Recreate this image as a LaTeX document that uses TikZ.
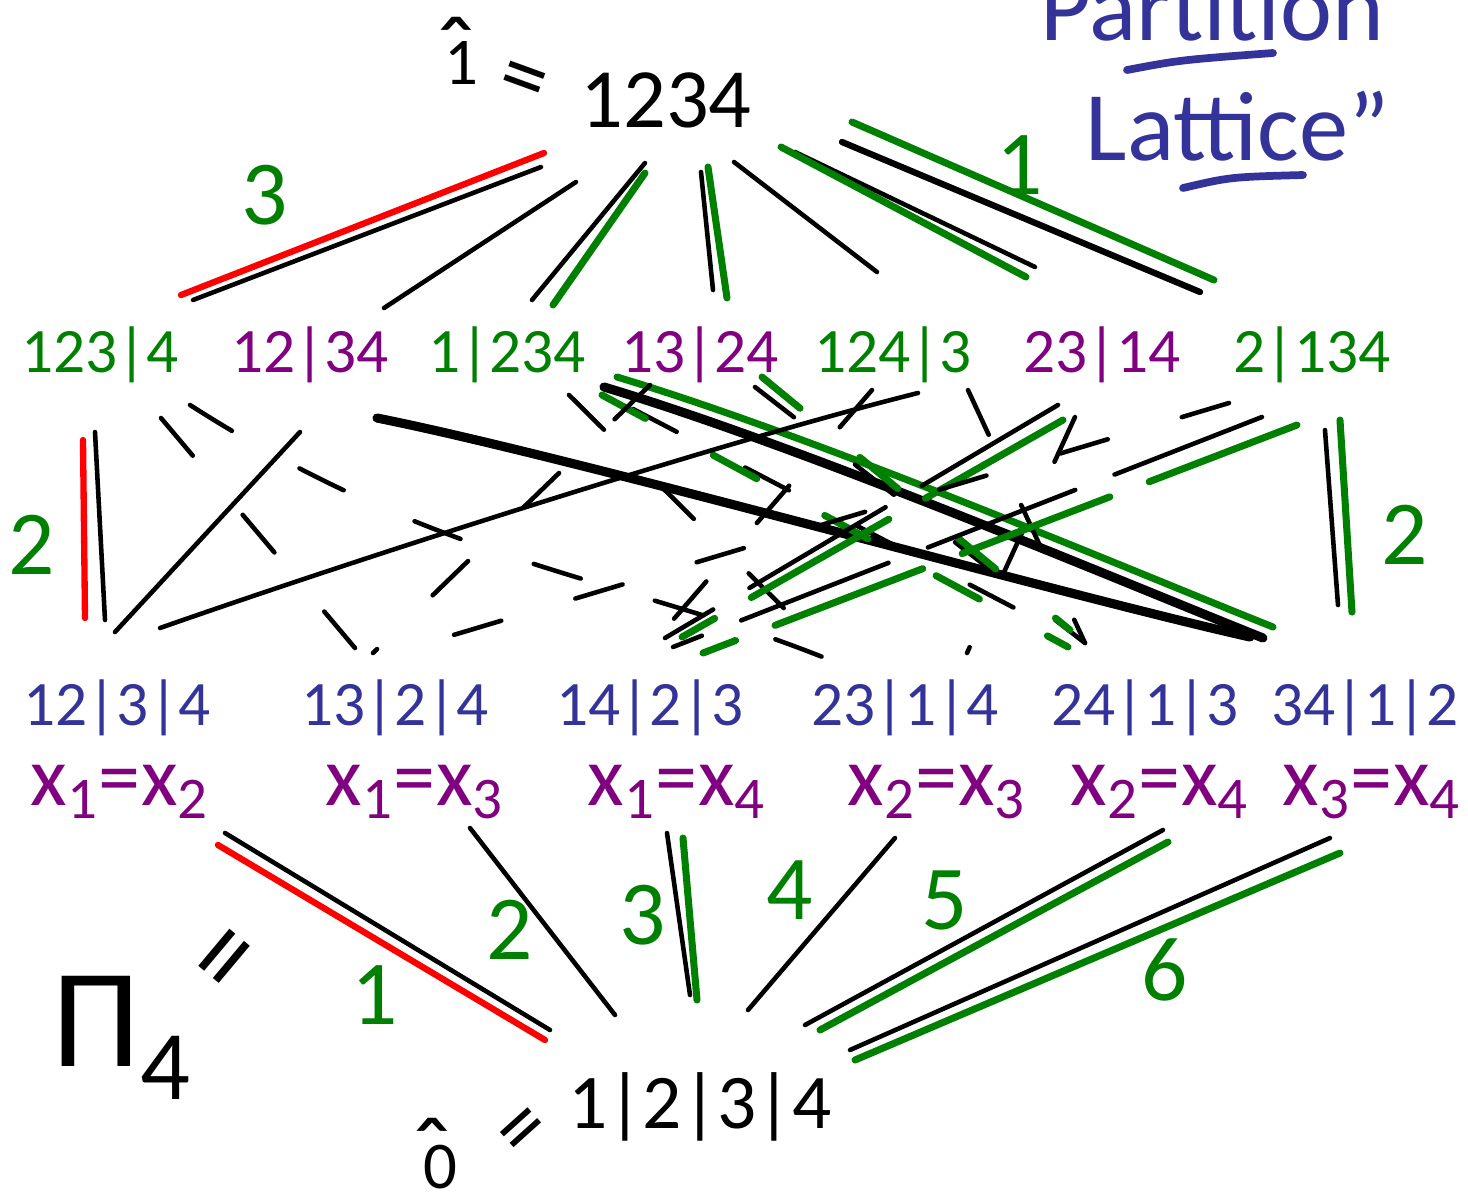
\documentclass[tikz,border=0pt]{standalone}
\usepackage{fontspec}
\setmainfont{Carlito}
\definecolor{lgreen}{HTML}{008000}
\definecolor{lpurple}{HTML}{800080}
\definecolor{lblue}{HTML}{333399}
\newcommand{\fs}[1]{\fontsize{#1}{#1}\selectfont}

\begin{document}
\begin{tikzpicture}[x=0.01cm,y=-0.01cm,inner sep=0pt,
  blk/.style={line width=1.3pt,line cap=round},
  thk/.style={line width=2.6pt,line cap=round},
  grn/.style={lgreen,line width=2pt,line cap=round},
  rd/.style={red,line width=1.8pt,line cap=round},
  hid/.style={dash pattern=on 14pt off 22pt},
  brk/.style={dash pattern=on 45pt off 12pt},
  hatmark/.style={font=\fs{30},anchor=base}]
  \useasboundingbox (0,0) rectangle (1468,1196);

  % ----- top, bottom, names -----
  \node[font=\fs{24}] (top) at (666,100) {1234};
  \node[font=\fs{19},anchor=base] (one) at (461,84) {1};
  \node[hatmark] (hat1) at (456,88) {ˆ};
  \node[font=\fs{26},rotate=-20] (eq1) at (522,86) {=};
  \node[font=\fs{22}] (bot) at (700,1107) {1|2|3|4};
  \node[font=\fs{19},anchor=base] (zero) at (440,1188) {0};
  \node[hatmark] (hat0) at (432,1189) {ˆ};
  \node[font=\fs{26},rotate=42] (eq0) at (527,1135) {=};
  \node[font=\fs{40},anchor=base west] (pi4) at (52,1066) {Π\textsubscript{4}};
  \node[font=\fs{34},rotate=50] (eqpi) at (234,964) {=};

  % ----- title -----
  \node[text=lblue,font=\fs{28},anchor=base west] (title1) at (1040,40) {Partition};
  \node[text=lblue,font=\fs{28},anchor=base west] (title2) at (1085,160) {Lattice''};
  \draw[lblue,line width=2.2pt,line cap=round] (1127,70) .. controls (1180,60) .. (1273,53);
  \draw[lblue,line width=2.2pt,line cap=round] (1183,188) .. controls (1230,177) .. (1303,175);

  % ----- coatoms -----
  \foreach \n/\x/\t/\c in {s123x4/100/123|4/lgreen, s12x34/310/12|34/lpurple,
      s1x234/507/1|234/lgreen, s13x24/700/13|24/lpurple, s124x3/893/124|3/lgreen,
      s23x14/1102/23|14/lpurple, s2x134/1312/2|134/lgreen}
    \node[text=\c,font=\fs{18}] (\n) at (\x,355) {\t};

  % ----- atoms -----
  \foreach \n/\x/\t in {a12/117/12|3|4, a13/395/13|2|4, a14/650/14|2|3,
      a23/905/23|1|4, a24/1145/24|1|3, a34/1365/34|1|2}
    \node[text=lblue,font=\fs{18}] (\n) at (\x,708) {\t};

  % ----- equations -----
  \foreach \n/\x/\i/\j in {e12/120/1/2, e13/415/1/3, e14/677/1/4,
      e23/937/2/3, e24/1160/2/4, e34/1372/3/4}
    \node[text=lpurple,font=\fs{24}] (\n) at (\x,792) {x\textsubscript{\i}=x\textsubscript{\j}};

  % ----- counts -----
  \foreach \x/\y/\t [count=\k] in {265/195/3, 1020/165/1, 32/545/2, 1405/535/2,
      375/995/1, 510/930/2, 643/915/3, 790/890/4, 945/900/5, 1165/970/6}
    \node[text=lgreen,font=\fs{26}] (w\k) at (\x,\y) {\t};

  % ----- top fan -----
  \draw[rd] ([shift={(-122,53)}]top.center) -- ([shift={(81,-60)}]s123x4.center);
  \draw[blk] ([shift={(-125,67)}]top.center) -- ([shift={(93,-55)}]s123x4.center);
  \draw[blk] ([shift={(-90,82)}]top.center) -- ([shift={(74,-47)}]s12x34.center);
  \draw[blk] ([shift={(-21,63)}]top.center) -- ([shift={(25,-55)}]s1x234.center);
  \draw[grn] ([shift={(-21,73)}]top.center) -- ([shift={(46,-50)}]s1x234.center);
  \draw[blk] ([shift={(35,72)}]top.center) -- ([shift={(13,-65)}]s13x24.center);
  \draw[grn] ([shift={(42,67)}]top.center) -- ([shift={(27,-57)}]s13x24.center);
  \draw[blk] ([shift={(68,62)}]top.center) -- ([shift={(-16,-83)}]s124x3.center);
  \draw[blk] ([shift={(129,52)}]top.center) -- ([shift={(-67,-88)}]s23x14.center);
  \draw[grn] ([shift={(115,47)}]top.center) -- ([shift={(-76,-78)}]s23x14.center);
  \draw[thk,line width=1.8pt] ([shift={(176,42)}]top.center) -- ([shift={(-112,-63)}]s2x134.center);
  \draw[grn] ([shift={(186,22)}]top.center) -- ([shift={(-98,-75)}]s2x134.center);

  % ----- coatoms to atoms -----
  \draw[rd] ([shift={(-17,85)}]s123x4.center) -- ([shift={(-32,-90)}]a12.center);
  \draw[blk] ([shift={(-5,77)}]s123x4.center) -- ([shift={(-12,-88)}]a12.center);
  \draw[blk,hid] ([shift={(61,63)}]s123x4.center) -- ([shift={(-40,-60)}]a13.center);
  \draw[blk,hid] ([shift={(90,50)}]s123x4.center) .. controls +(250,160) and +(-200,-80) .. ([shift={(-80,-50)}]a23.center);
  \draw[blk] ([shift={(-10,77)}]s12x34.center) -- ([shift={(-2,-76)}]a12.center);
  \draw[thk] ([shift={(67,63)}]s12x34.center) .. controls +(200,40) and +(-200,-45) .. ([shift={(-115,-71)}]a34.center);
  \draw[blk,hid] ([shift={(62,40)}]s1x234.center) -- ([shift={(-74,-53)}]a23.center);
  \draw[blk,hid] ([shift={(126,54)}]s1x234.center) -- ([shift={(-73,-70)}]a24.center);
  \draw[grn,hid] ([shift={(95,40)}]s1x234.center) -- ([shift={(-77,-61)}]a24.center);
  \draw[thk] ([shift={(97,32)}]s1x234.center) .. controls +(200,60) and +(-150,-60) .. ([shift={(-102,-70)}]a34.center);
  \draw[grn] ([shift={(110,22)}]s1x234.center) .. controls +(200,60) and +(-150,-60) .. ([shift={(-92,-81)}]a34.center);
  \draw[blk,hid] ([shift={(-50,30)}]s13x24.center) -- ([shift={(-22,-55)}]a13.center);
  \draw[blk,hid] ([shift={(55,32)}]s13x24.center) -- ([shift={(-60,-65)}]a24.center);
  \draw[grn,hid] ([shift={(62,22)}]s13x24.center) -- ([shift={(-75,-78)}]a24.center);
  \draw[blk] ([shift={(25,38)}]s124x3.center) .. controls +(-200,50) and +(200,-70) .. ([shift={(43,-80)}]a12.center);
  \draw[blk,hid] ([shift={(-21,35)}]s124x3.center) -- ([shift={(10,-73)}]a14.center);
  \draw[blk,hid] ([shift={(75,35)}]s124x3.center) -- ([shift={(-60,-65)}]a24.center);
  \draw[blk,brk] ([shift={(-44,50)}]s23x14.center) -- ([shift={(15,-70)}]a14.center);
  \draw[grn,brk] ([shift={(-39,65)}]s23x14.center) -- ([shift={(32,-71)}]a14.center);
  \draw[blk,hid] ([shift={(-27,62)}]s23x14.center) -- ([shift={(62,-55)}]a23.center);
  \draw[blk,hid] ([shift={(-83,48)}]s2x134.center) -- ([shift={(5,-57)}]a13.center);
  \draw[blk,brk] ([shift={(-50,62)}]s2x134.center) -- ([shift={(23,-61)}]a14.center);
  \draw[grn,brk] ([shift={(-15,70)}]s2x134.center) -- ([shift={(53,-55)}]a14.center);
  \draw[blk] ([shift={(13,75)}]s2x134.center) -- ([shift={(-27,-103)}]a34.center);
  \draw[grn] ([shift={(28,65)}]s2x134.center) -- ([shift={(-13,-96)}]a34.center);

  % ----- atoms to bottom -----
  \draw[blk] ([shift={(108,125)}]a12.center) -- ([shift={(-150,-77)}]bot.center);
  \draw[rd] ([shift={(101,137)}]a12.center) -- ([shift={(-155,-67)}]bot.center);
  \draw[blk] ([shift={(75,120)}]a13.center) -- ([shift={(-85,-92)}]bot.center);
  \draw[blk] ([shift={(17,125)}]a14.center) -- ([shift={(-10,-112)}]bot.center);
  \draw[grn] ([shift={(33,130)}]a14.center) -- ([shift={(-3,-107)}]bot.center);
  \draw[blk] ([shift={(-10,130)}]a23.center) -- ([shift={(48,-97)}]bot.center);
  \draw[blk] ([shift={(18,122)}]a24.center) -- ([shift={(105,-82)}]bot.center);
  \draw[grn] ([shift={(23,134)}]a24.center) -- ([shift={(120,-77)}]bot.center);
  \draw[blk] ([shift={(-35,130)}]a34.center) -- ([shift={(150,-57)}]bot.center);
  \draw[grn] ([shift={(-25,145)}]a34.center) -- ([shift={(155,-47)}]bot.center);
\end{tikzpicture}
\end{document}
